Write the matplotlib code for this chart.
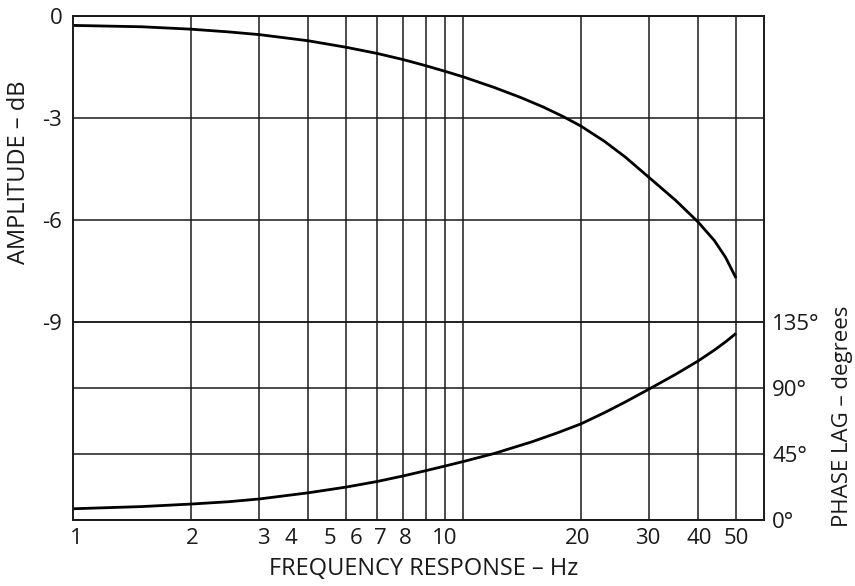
import matplotlib
matplotlib.use('Agg')
import matplotlib.pyplot as plt
from matplotlib.ticker import NullLocator

plt.rcParams['font.family'] = ['Open Sans', 'DejaVu Sans']

# amplitude response (dB) read along the frequency axis
amp_freq = [1, 1.5, 2, 2.5, 3, 4, 5, 6, 7, 8, 9, 10, 12, 14, 16, 18, 20,
            23, 26, 30, 35, 40, 44, 47, 50]
amp_db = [-0.29, -0.33, -0.40, -0.48, -0.56, -0.74, -0.93, -1.11, -1.29, -1.47,
          -1.64, -1.80, -2.11, -2.40, -2.68, -2.96, -3.24, -3.69, -4.15, -4.76,
          -5.42, -6.06, -6.60, -7.09, -7.70]

# phase lag (degrees)
phase_freq = [1, 1.5, 2, 2.5, 3, 4, 5, 6, 7, 8, 9, 10, 12, 15, 17.5, 20,
              23, 26, 30, 35, 40, 44, 47, 50]
phase_deg = [7.5, 9.0, 10.7, 12.3, 14.2, 18.4, 22.3, 26.1, 29.9, 33.5, 36.8, 39.8,
             45.3, 53.3, 59.6, 65.5, 73.2, 80.5, 89.5, 99.4, 108.6, 116.0, 121.6, 127.4]

grid_freqs = [2, 3, 4, 5, 6, 7, 8, 9, 10, 20, 30, 40, 50]
xtick_vals = [1, 2, 3, 4, 5, 6, 7, 8, 10, 20, 30, 40, 50]
# labels are nudged sideways (pixels) so the crowded ones don't collide
xtick_shift = [3, 2, 4, -17, -16, -21, -23, -20, -19, -3, -2, 1, 0]

db_ticks = [0, -3, -6, -9]
db_labels = ['0', '-3', '-6', '-9']
deg_ticks = [0, 45, 90, 135]
deg_labels = ['0°', '45°', '90°', '135°']

ink = '#1a1a1a'

fig = plt.figure(figsize=(8.55, 5.86), dpi=100)
ax = fig.add_axes([0.0857, 0.1131, 0.8079, 0.8604])
ax.set_xscale('log')
ax.set_xlim(1, 59)
ax.set_ylim(-14.79, 0)

ax2 = ax.twinx()
ax2.set_ylim(0, 344.8)

grid_kw = dict(color=ink, linewidth=1.1)

ax.set_xticks(grid_freqs)
ax.xaxis.set_minor_locator(NullLocator())
ax.set_yticks(db_ticks)
ax.set_yticklabels(db_labels)
ax.grid(True, axis='both', **grid_kw)
ax.tick_params(axis='x', length=0, labelbottom=False)
ax.tick_params(axis='y', length=0, pad=8, labelsize=16, labelcolor=ink)

ax2.set_yticks(deg_ticks)
ax2.set_yticklabels(deg_labels)
ax2.grid(True, axis='y', **grid_kw)
ax2.tick_params(axis='y', length=0, pad=6, labelsize=16, labelcolor=ink)

for a in (ax, ax2):
    for s in a.spines.values():
        s.set_color(ink)
        s.set_linewidth(1.2)

ax.plot(amp_freq, amp_db, color='black', linewidth=2.0,
        solid_capstyle='butt', solid_joinstyle='round')
ax2.plot(phase_freq, phase_deg, color='black', linewidth=2.0,
         solid_capstyle='butt', solid_joinstyle='round')

for val, dx in zip(xtick_vals, xtick_shift):
    ax.annotate(str(val), xy=(val, 0), xycoords=('data', 'axes fraction'),
                xytext=(dx, -8), textcoords='offset pixels',
                ha='center', va='top', fontsize=16, color=ink)

fig.text(0.496, 0.029, 'FREQUENCY RESPONSE – Hz', ha='center', va='center',
         fontsize=17, color=ink)
fig.text(0.022, 0.706, 'AMPLITUDE – dB', ha='center', va='center', rotation=90,
         fontsize=17, color=ink)
fig.text(0.985, 0.29, 'PHASE LAG – degrees', ha='center', va='center', rotation=90,
         fontsize=16, color=ink)

fig.savefig('out.png', dpi=100)
